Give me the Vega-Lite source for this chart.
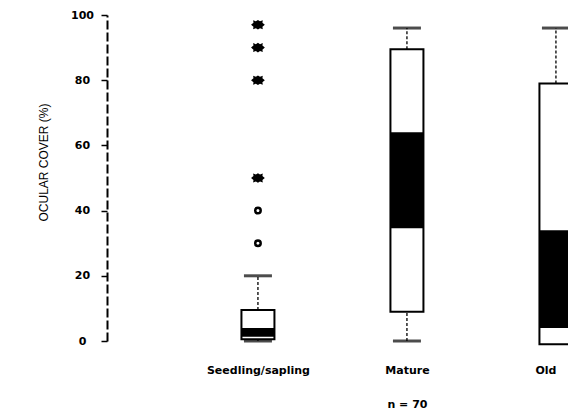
{
  "$schema": "https://vega.github.io/schema/vega-lite/v6.json",
  "width": 461,
  "height": 326,
  "autosize": {"type": "none"},
  "padding": {"left": 107, "top": 15, "right": 0, "bottom": 76},
  "background": "white",
  "config": {
    "view": {"stroke": null},
    "axis": {"grid": false},
    "axisY": {
      "domainColor": "black",
      "domainWidth": 2,
      "domainDash": [9, 3],
      "tickColor": "black",
      "tickWidth": 1.5,
      "tickSize": 6,
      "labelFont": "DejaVu Sans",
      "labelFontWeight": "bold",
      "labelFontSize": 11,
      "labelColor": "black",
      "labelAlign": "center",
      "labelPadding": 19,
      "titleFont": "Liberation Sans",
      "titleFontWeight": "normal",
      "titleFontSize": 12,
      "titleColor": "black",
      "titleX": -64,
      "titleY": 147,
      "titleAlign": "center",
      "titleBaseline": "middle",
      "titleAngle": -90
    }
  },
  "datasets": {
    "boxes": [
      {"group": "Seedling/sapling", "wlo": 0, "q1": 0.5, "dlo": 1.3, "dhi": 4, "q3": 9.5, "whi": 20},
      {"group": "Mature", "wlo": 0, "q1": 9, "dlo": 34.6, "dhi": 64, "q3": 89.5, "whi": 96},
      {"group": "Old", "wlo": null, "q1": -1, "dlo": 4, "dhi": 34, "q3": 79, "whi": 96}
    ],
    "outliers": [
      {"group": "Seedling/sapling", "value": 30, "kind": "circle"},
      {"group": "Seedling/sapling", "value": 40, "kind": "circle"},
      {"group": "Seedling/sapling", "value": 50, "kind": "star"},
      {"group": "Seedling/sapling", "value": 80, "kind": "star"},
      {"group": "Seedling/sapling", "value": 90, "kind": "star"},
      {"group": "Seedling/sapling", "value": 97, "kind": "star"}
    ]
  },
  "encoding": {
    "x": {
      "field": "group",
      "type": "nominal",
      "title": null,
      "scale": {"type": "point", "domain": ["Seedling/sapling", "Mature", "Old"], "padding": 0.547, "align": 0.926},
      "axis": {
        "domain": false,
        "ticks": false,
        "labelAngle": 0,
        "labelFont": "DejaVu Sans",
        "labelFontWeight": "bold",
        "labelFontSize": 11,
        "labelColor": "black",
        "labelPadding": 23,
        "labelLineHeight": 34,
        "labelAlign": {"condition": {"test": "datum.value == 'Old'", "value": "right"}, "value": "center"},
        "labelExpr": "datum.value == 'Mature' ? ['Mature', 'n = 70'] : datum.value"
      }
    }
  },
  "layer": [
    {
      "data": {"name": "boxes"},
      "mark": {"type": "rule", "color": "black", "strokeWidth": 1.3, "strokeDash": [3, 2]},
      "encoding": {
        "y": {"field": "wlo", "type": "quantitative", "scale": {"domain": [0, 100], "nice": false}, "title": "OCULAR COVER (%)", "axis": {"values": [0, 20, 40, 60, 80, 100]}},
        "y2": {"field": "q1"}
      }
    },
    {
      "data": {"name": "boxes"},
      "mark": {"type": "rule", "color": "black", "strokeWidth": 1.3, "strokeDash": [3, 2]},
      "encoding": {
        "y": {"field": "q3", "type": "quantitative", "title": "OCULAR COVER (%)"},
        "y2": {"field": "whi"}
      }
    },
    {
      "data": {"name": "boxes"},
      "mark": {"type": "bar", "size": 33, "fill": "white", "stroke": "black", "strokeWidth": 2},
      "encoding": {
        "y": {"field": "q1", "type": "quantitative", "title": "OCULAR COVER (%)"},
        "y2": {"field": "q3"}
      }
    },
    {
      "data": {"name": "boxes"},
      "mark": {"type": "bar", "size": 33, "fill": "black"},
      "encoding": {
        "y": {"field": "dlo", "type": "quantitative", "title": "OCULAR COVER (%)"},
        "y2": {"field": "dhi"}
      }
    },
    {
      "data": {"name": "boxes"},
      "mark": {"type": "tick", "color": "black", "thickness": 3, "size": 28},
      "encoding": {
        "y": {"field": "wlo", "type": "quantitative", "title": "OCULAR COVER (%)"}
      }
    },
    {
      "data": {"name": "boxes"},
      "mark": {"type": "tick", "color": "black", "thickness": 3, "size": 28},
      "encoding": {
        "y": {"field": "whi", "type": "quantitative", "title": "OCULAR COVER (%)"}
      }
    },
    {
      "data": {"name": "outliers"},
      "transform": [{"filter": "datum.kind == 'circle'"}],
      "mark": {"type": "point", "shape": "circle", "filled": false, "color": "black", "strokeWidth": 2.5, "size": 30, "opacity": 1},
      "encoding": {
        "y": {"field": "value", "type": "quantitative", "title": "OCULAR COVER (%)"}
      }
    },
    {
      "data": {"name": "outliers"},
      "transform": [{"filter": "datum.kind == 'star'"}],
      "mark": {"type": "point", "shape": "M0,-0.7L0.3,-0.5L0.7,-0.65L0.65,-0.3L1,0L0.65,0.3L0.7,0.65L0.3,0.5L0,0.7L-0.3,0.5L-0.7,0.65L-0.65,0.3L-1,0L-0.65,-0.3L-0.7,-0.65L-0.3,-0.5Z", "filled": true, "color": "black", "size": 190, "opacity": 1},
      "encoding": {
        "y": {"field": "value", "type": "quantitative", "title": "OCULAR COVER (%)"}
      }
    }
  ]
}
